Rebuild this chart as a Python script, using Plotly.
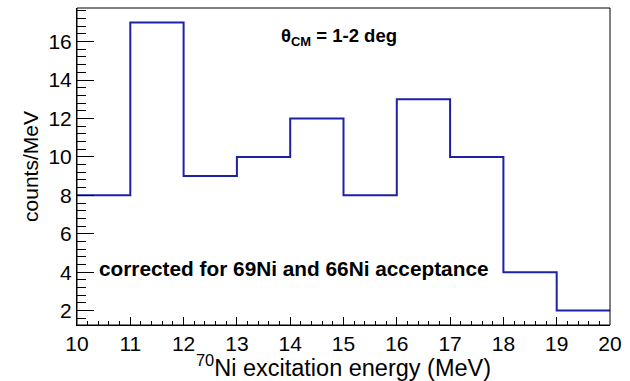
import plotly.graph_objects as go

# Histogram of 70Ni excitation energy, 1 MeV bins
bin_edges = [10, 11, 12, 13, 14, 15, 16, 17, 18, 19, 20]
counts_per_mev = [8, 17, 9, 10, 12, 8, 13, 10, 4, 2]

x_ticks = list(range(10, 21))
y_ticks = [2, 4, 6, 8, 10, 12, 14, 16]

line_color = "#1c23a3"
font_family = "Liberation Sans, Arial, Helvetica, sans-serif"

# step outline: each bin value held until the next edge
step_y = counts_per_mev + [counts_per_mev[-1]]

fig = go.Figure()
fig.add_trace(go.Scatter(
    x=bin_edges, y=step_y, mode="lines",
    line=dict(color=line_color, width=2, shape="hv"),
    hoverinfo="skip", showlegend=False,
))

fig.update_layout(
    width=630, height=381,
    margin=dict(l=77, r=16, t=8, b=54),
    paper_bgcolor="white", plot_bgcolor="white",
    font=dict(family=font_family, color="black", size=21),
    xaxis=dict(
        range=[10, 20], tickvals=x_ticks, ticktext=[str(v) for v in x_ticks],
        ticks="inside", ticklen=8, tickwidth=1, tickcolor="black",
        minor=dict(dtick=0.2, ticks="inside", ticklen=4, tickcolor="black", tickwidth=1),
        showline=True, linecolor="black", linewidth=1, showgrid=False, zeroline=False,
        tickfont=dict(size=21),
        title=dict(text="<sup>70</sup>Ni excitation energy (MeV)", font=dict(size=23.5), standoff=1),
    ),
    yaxis=dict(
        range=[1.25, 17.75], tickvals=y_ticks, ticktext=[str(v) for v in y_ticks],
        ticks="inside", ticklen=17, tickwidth=1, tickcolor="black",
        minor=dict(dtick=0.4, tick0=0, ticks="inside", ticklen=9, tickcolor="black", tickwidth=1),
        showline=True, linecolor="black", linewidth=1, showgrid=False, zeroline=False,
        tickfont=dict(size=21),
        title=dict(text="counts/MeV", font=dict(size=21), standoff=4),
    ),
    shapes=[dict(type="rect", xref="paper", yref="paper", x0=0, x1=1, y0=0, y1=1,
                 line=dict(color="black", width=1), fillcolor="rgba(0,0,0,0)", layer="above")],
    annotations=[
        dict(text="<b>θ<sub>CM</sub> = 1-2 deg</b>", x=14.92, y=16.25, xref="x", yref="y",
             showarrow=False, font=dict(size=18.5)),
        dict(text="<b>corrected for 69Ni and 66Ni acceptance</b>", x=10.38, y=4.2,
             xref="x", yref="y", xanchor="left", showarrow=False, font=dict(size=20.8)),
    ],
)

fig.write_html("out.html")
